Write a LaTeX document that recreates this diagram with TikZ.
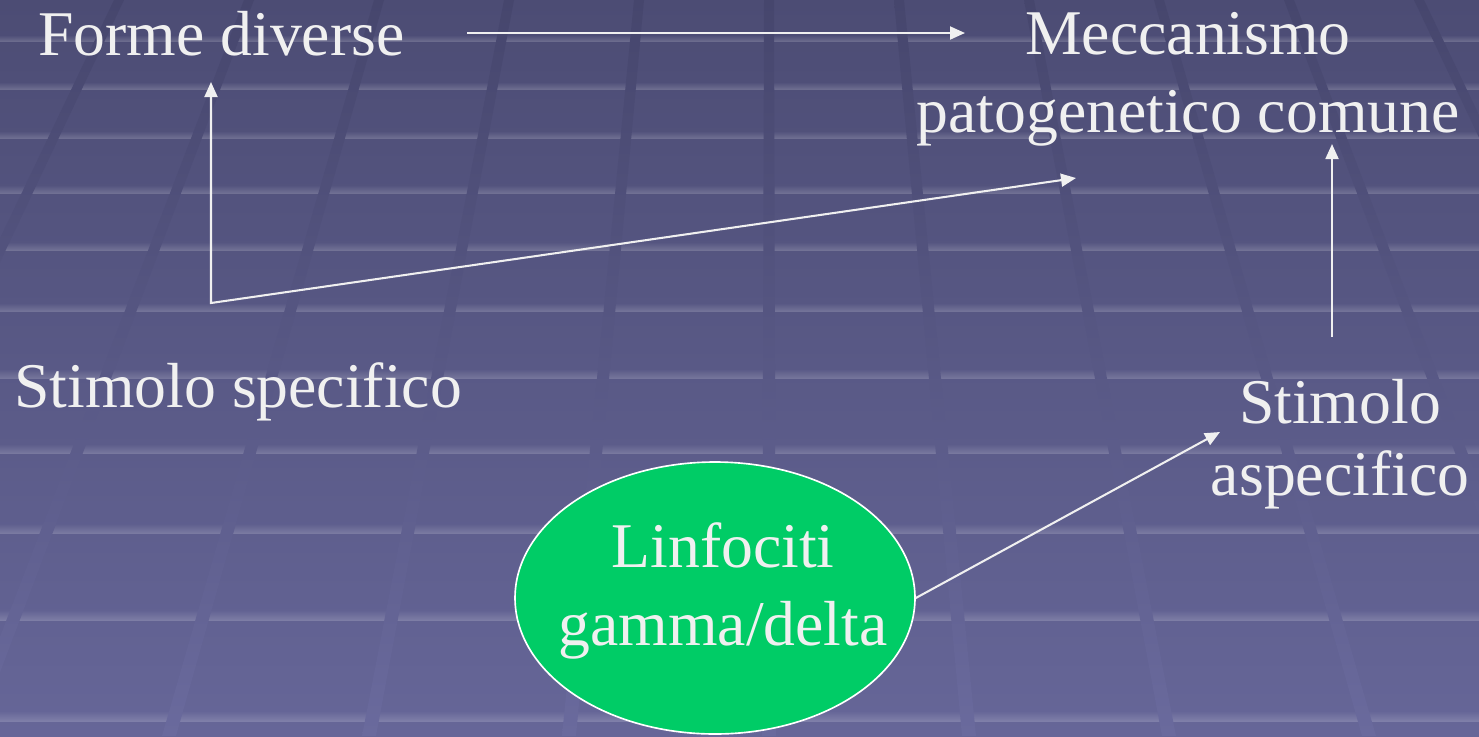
\documentclass[tikz,border=0pt]{standalone}
\usepackage{fontspec}
\setmainfont{Liberation Serif}
\usetikzlibrary{arrows.meta,shapes.geometric}
\definecolor{bgtop}{RGB}{76,76,116}
\definecolor{bgbot}{RGB}{102,102,152}
\definecolor{stripetop}{RGB}{70,70,109}
\definecolor{stripebot}{RGB}{106,106,157}
\definecolor{txt}{RGB}{240,240,240}
\definecolor{cellgreen}{RGB}{0,204,102}
\tikzset{
  lbl/.style={inner sep=0pt, text=txt, font=\fontsize{31}{37.5}\selectfont, align=center},
  conn/.style={draw=txt, line width=1pt, -{Triangle[length=7.3pt,width=6.3pt]}},
  biconn/.style={draw=txt, line width=1pt, {Triangle[length=7.3pt,width=6.3pt]}-{Triangle[length=7.3pt,width=6.3pt]}},
  cell/.style={ellipse, draw=white, line width=0.8pt, fill=cellgreen, inner sep=0pt,
               minimum width=194.7pt, minimum height=132.4pt},
}
\begin{document}
\begin{tikzpicture}[x=0.4868pt,y=-0.4868pt]
\useasboundingbox (0,0) rectangle (1479,736);
\shade[top color=bgtop, bottom color=bgbot] (0,0) rectangle (1479,736);
\begin{scope}
  \clip (0,0) rectangle (1479,736);
  % horizontal light bands
  \foreach \yy/\hh in {41/6, 89/7, 138/7, 193/8, 250/8, 311/8, 378/9, 453/9, 533/9, 620/10, 721/10} {
    \pgfmathtruncatemacro{\pp}{\yy/7.36}
    \colorlet{bgl}{bgbot!\pp!bgtop}
    \shade[top color=bgl, bottom color=bgl!83!white] (0,\yy-\hh) rectangle (1479,\yy);
  }
  % converging stripes
  \foreach \k in {-6,...,6} {
    \pgfmathsetmacro{\xt}{769+130*\k}
    \pgfmathsetmacro{\xb}{769+200*\k}
    \shade[top color=stripetop, bottom color=stripebot]
      (\xt-5,0) -- (\xt+5,0) -- (\xb+7,736) -- (\xb-7,736) -- cycle;
  }
\end{scope}

% text nodes (base anchor = baseline of the last line)
\node[lbl, anchor=base west] (fd) at (38,55) {Forme diverse};
\node[lbl, anchor=base] (mpc) at (1188,132) {Meccanismo\\patogenetico comune};
\node[lbl, anchor=base west] (ss) at (14,407) {Stimolo specifico};
\node[lbl, anchor=base, font=\fontsize{31}{35}\selectfont] (sa) at (1340,495) {Stimolo\\aspecifico};
\node[cell] (lgd) at (715,598) {};
\node[lbl, anchor=base] (lgdt) at (723,645) {Linfociti\\gamma/delta};

% connector end points
\coordinate (a1s) at (467,33);
\coordinate (a1e) at (965,33);
\coordinate (corner) at (211,303);
\coordinate (utip) at (211,82);
\coordinate (dtip) at (1076,178);
\coordinate (vs) at (1332,337);
\coordinate (vtip) at (1332,144);
\coordinate (etip) at (1220,432);

% connectors
\draw[conn] (a1s) -- (a1e);
\draw[biconn] (dtip) -- (corner) -- (utip);
\draw[conn] (vs) -- (vtip);
\draw[conn] (lgd.east) -- (etip);
\end{tikzpicture}
\end{document}
